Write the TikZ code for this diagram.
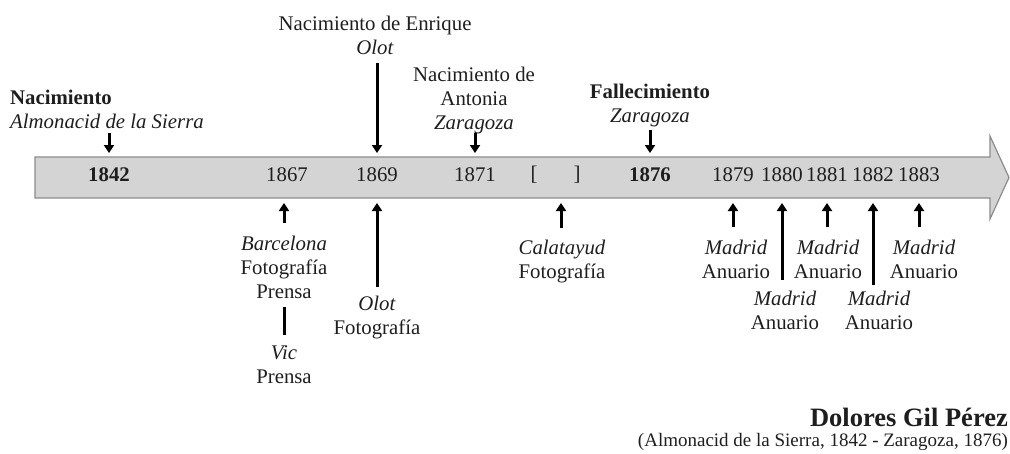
\documentclass[tikz,border=0pt]{standalone}
\usepackage{fontspec}
\setmainfont{Liberation Serif}
\usetikzlibrary{arrows.meta}
\definecolor{txt}{RGB}{30,30,30}
\definecolor{barfill}{RGB}{212,212,212}
\definecolor{barline}{RGB}{140,140,140}
\begin{document}
\begin{tikzpicture}[x=1pt,y=-1pt,
  lbl/.style={font=\fontsize{20.8}{24}\selectfont,align=center,inner sep=0pt,text=txt},
  evt/.style={line width=3pt,-{Triangle[width=10pt,length=8pt]}}]
\useasboundingbox (0,0) rectangle (1010,453);
\filldraw[fill=barfill,draw=barline,line width=1.2pt] (35,157) -- (990,157) -- (990,136) -- (1009,177.5) -- (990,219) -- (990,198) -- (35,198) -- cycle;
\coordinate (bartop) at (0,153);
\coordinate (barbot) at (0,203);

\node[lbl,font=\fontsize{20.8}{24}\selectfont\bfseries] (y1842) at (109,175) {1842};
\node[lbl,font=\fontsize{20.8}{24}\selectfont\bfseries] (y1876) at (650,175) {1876};
\foreach \yr/\x in {1867/287,1869/377,1871/475,1879/733,1880/782,1881/827,1882/873,1883/919}
 \node[lbl] (y\yr) at (\x,175) {\yr};
\node[lbl] (open) at (534,175) {[};
\node[lbl] (close) at (577,175) {]};
\coordinate (gap) at (561,175);

% above the bar
\node[lbl,align=left,anchor=north west] (nac) at (10,90) {\textbf{Nacimiento}\\\textit{Almonacid de la Sierra}};
\node[lbl,anchor=north] (enrique) at (375,16) {Nacimiento de Enrique\\\textit{Olot}};
\node[lbl,anchor=north] (antonia) at (474,67) {Nacimiento de\\Antonia\\\textit{Zaragoza}};
\node[lbl,anchor=north] (fallec) at (650,84) {\textbf{Fallecimiento}\\\textit{Zaragoza}};
\draw[evt] (y1842 |- 0,133) -- (y1842 |- bartop);
\draw[evt] (y1869 |- 0,63) -- (y1869 |- bartop);
\draw[evt] (y1871 |- 0,133) -- (y1871 |- bartop);
\draw[evt] (y1876 |- 0,130) -- (y1876 |- bartop);

% below the bar
\node[lbl,anchor=north] (barcelona) at (284,236) {\textit{Barcelona}\\Fotografía\\Prensa};
\node[lbl,anchor=north] (vic) at (284,346) {\textit{Vic}\\Prensa};
\node[lbl,anchor=north] (olot) at (377,296) {\textit{Olot}\\Fotografía};
\node[lbl,anchor=north] (calatayud) at (562,240) {\textit{Calatayud}\\Fotografía};
\draw[evt] (barcelona |- 0,223) -- (barcelona |- barbot);
\draw[line width=3pt] (barcelona |- 0,307) -- (vic |- 0,335);
\draw[evt] (y1869 |- 0,287) -- (y1869 |- barbot);
\draw[evt] (gap |- 0,228) -- (gap |- barbot);
\foreach \yr/\x/\ty/\tl in {1879/736/240/227,1880/785/291/280,1881/828/240/227,1882/879/291/285,1883/924/240/227}{
 \node[lbl,anchor=north] (m\yr) at (\x,\ty) {\textit{Madrid}\\Anuario};
 \draw[evt] (y\yr |- 0,\tl) -- (y\yr |- barbot);
}

\node[lbl,anchor=north east,font=\fontsize{26.5}{30}\selectfont\bfseries] (nombre) at (1008,408) {Dolores Gil Pérez};
\node[lbl,anchor=north east,font=\fontsize{19}{22}\selectfont] (datos) at (1008,433) {(Almonacid de la Sierra, 1842 - Zaragoza, 1876)};
\end{tikzpicture}
\end{document}
